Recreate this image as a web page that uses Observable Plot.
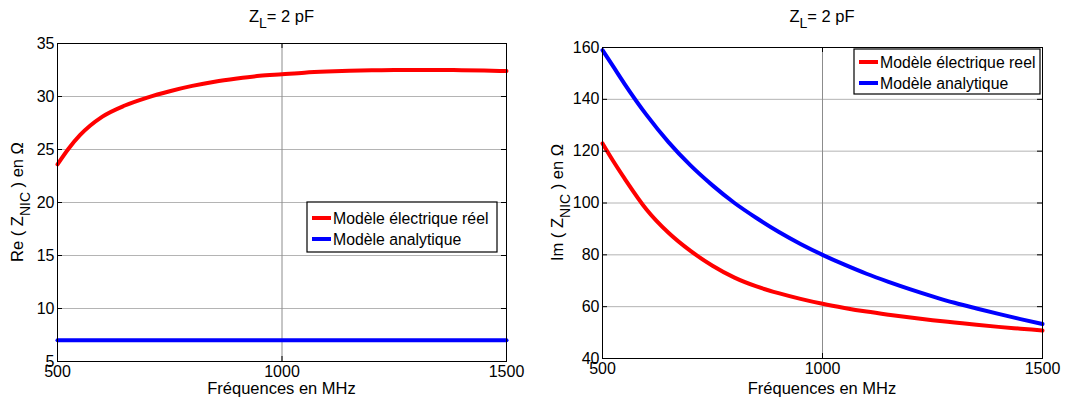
<!DOCTYPE html>
<html>
<head>
<meta charset="utf-8">
<script src="https://cdn.jsdelivr.net/npm/d3@7"></script>
<script src="https://cdn.jsdelivr.net/npm/@observablehq/plot@0.6"></script>
<style>
  html, body { margin: 0; padding: 0; background: #fff; }
  #wrap { position: relative; width: 1081px; height: 399px; background: #fff; overflow: hidden; }
  #wrap > div, #wrap > svg { position: absolute; top: 0; }
</style>
</head>
<body>
<div id="wrap"></div>
<script>
// ---- data ----
const freq   = [500, 525, 550, 600, 650, 700, 750, 800, 850, 900, 950, 1000, 1050, 1100, 1150, 1200, 1250, 1300, 1350, 1400, 1450, 1500];
const reReel = [23.6, 25.1, 26.35, 28.1, 29.15, 29.9, 30.5, 31.0, 31.4, 31.7, 31.95, 32.1, 32.25, 32.35, 32.42, 32.47, 32.5, 32.5, 32.5, 32.48, 32.45, 32.4];
const reAna  = [7, 7, 7, 7, 7, 7, 7, 7, 7, 7, 7, 7, 7, 7, 7, 7, 7, 7, 7, 7, 7, 7];
const imReel = [123, 116, 109.5, 97.5, 88.5, 81.5, 75.8, 71.2, 67.8, 65.2, 63, 61.1, 59.5, 58.1, 56.9, 55.8, 54.8, 53.9, 53.0, 52.2, 51.5, 50.8];
const imAna  = [159, 152.5, 146, 134, 123.5, 114.5, 106.8, 100, 94.2, 88.9, 84.2, 80, 76.2, 72.7, 69.6, 66.7, 64.0, 61.5, 59.3, 57.2, 55.2, 53.3];
const xTicks = [500, 1000, 1500];
const reTicks = [5, 10, 15, 20, 25, 30, 35];
const imTicks = [40, 60, 80, 100, 120, 140, 160];
const legendLeft  = ["Modèle électrique réel", "Modèle analytique"];
const legendRight = ["Modèle électrique reel", "Modèle analytique"];
const seriesColors = ["#ff0000", "#0000ff"];
const titleText = ["Z", "L", "= 2 pF"];
const xLabel = "Fréquences en MHz";

const FONT = "'Liberation Sans', Arial, Helvetica, sans-serif";

function panel({width, height, mL, mR, mT, mB, yDomain, yTicks, series, yPrefix, legend, legendBox, left}) {
  const innerW = width - mL - mR;
  const innerH = height - mT - mB;
  const rows = [];
  series.forEach((vals, si) => vals.forEach((v, i) => rows.push({f: freq[i], v, s: si})));
  const chart = Plot.plot({
    width, height,
    marginLeft: mL, marginRight: mR, marginTop: mT, marginBottom: mB,
    x: {domain: [500, 1500]},
    y: {domain: yDomain},
    style: {fontFamily: FONT, fontSize: "16px", color: "#000", background: "transparent", overflow: "visible"},
    marks: [
      Plot.gridY(yTicks.slice(1, -1), {stroke: "#b4b4b4", strokeOpacity: 1}),
      Plot.gridX([1000], {stroke: "#8c8c8c", strokeOpacity: 1}),
      Plot.line(rows, {x: "f", y: "v", z: "s", stroke: d => seriesColors[d.s], strokeWidth: 4, curve: "monotone-x"}),
      // inward ticks on all four sides
      Plot.tickY(yTicks, {y: d => d, stroke: "#000", insetRight: innerW - 5}),
      Plot.tickY(yTicks, {y: d => d, stroke: "#000", insetLeft: innerW - 5}),
      Plot.tickX(xTicks, {x: d => d, stroke: "#000", insetTop: innerH - 5}),
      Plot.tickX(xTicks, {x: d => d, stroke: "#000", insetBottom: innerH - 5}),
      Plot.frame({stroke: "#000"}),
      Plot.axisY(yTicks, {tickSize: 0, tickPadding: 3, label: null, fontSize: 16, tickFormat: d => String(d)}),
      Plot.axisX(xTicks, {tickSize: 0, tickPadding: 4, label: null, fontSize: 16, tickFormat: d => String(d)})
    ]
  });
  chart.style.left = left + "px";
  const svg = d3.select(chart.tagName.toLowerCase() === "svg" ? chart : chart.querySelector("svg"));

  // title with subscript
  const t = svg.append("text")
    .attr("x", mL + innerW / 2).attr("y", 22)
    .attr("text-anchor", "middle")
    .attr("font-family", FONT).attr("font-size", 16.5).attr("fill", "#000");
  t.append("tspan").text(titleText[0]);
  t.append("tspan").attr("dy", 6).attr("font-size", 14).text(titleText[1]);
  t.append("tspan").attr("dy", -6).text(titleText[2]);

  // x label
  svg.append("text")
    .attr("x", mL + innerW / 2).attr("y", height - 5)
    .attr("text-anchor", "middle")
    .attr("font-family", FONT).attr("font-size", 16.5).attr("fill", "#000")
    .text(xLabel);

  // y label with subscript
  const yl = svg.append("text")
    .attr("transform", `translate(23,${mT + innerH / 2}) rotate(-90)`)
    .attr("text-anchor", "middle")
    .attr("font-family", FONT).attr("font-size", 16.5).attr("fill", "#000");
  yl.append("tspan").text(yPrefix + " ( Z");
  yl.append("tspan").attr("dy", 7).attr("font-size", 14).text("NIC");
  yl.append("tspan").attr("dy", -7).text(" ) en Ω");

  // legend
  const g = svg.append("g");
  g.append("rect")
    .attr("x", legendBox.x).attr("y", legendBox.y)
    .attr("width", legendBox.w).attr("height", legendBox.h)
    .attr("fill", "#fff").attr("stroke", "#000").attr("stroke-width", 1.2);
  legend.forEach((name, i) => {
    const cy = legendBox.y + legendBox.first + i * legendBox.step;
    g.append("line")
      .attr("x1", legendBox.x + 5).attr("x2", legendBox.x + 24)
      .attr("y1", cy).attr("y2", cy)
      .attr("stroke", seriesColors[i]).attr("stroke-width", 4);
    g.append("text")
      .attr("x", legendBox.x + 26).attr("y", cy + 6)
      .attr("text-anchor", "start")
      .attr("font-family", FONT).attr("font-size", 15.8).attr("fill", "#000")
      .text(name);
  });
  return chart;
}

const wrap = document.getElementById("wrap");
wrap.appendChild(panel({
  width: 540, height: 399, mL: 57, mR: 34, mT: 43, mB: 38,
  yDomain: [5, 35], yTicks: reTicks, series: [reReel, reAna], yPrefix: "Re",
  legend: legendLeft, legendBox: {x: 307, y: 202, w: 190, h: 50, first: 16, step: 21}, left: 0
}));
wrap.appendChild(panel({
  width: 541, height: 399, mL: 62, mR: 39, mT: 47, mB: 41,
  yDomain: [40, 160], yTicks: imTicks, series: [imReel, imAna], yPrefix: "Im",
  legend: legendRight, legendBox: {x: 314, y: 49, w: 186, h: 45, first: 13, step: 21}, left: 540
}));
</script>
</body>
</html>
